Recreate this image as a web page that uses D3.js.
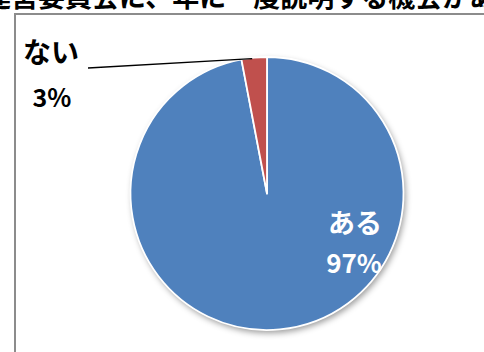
<!DOCTYPE html>
<html>
<head>
<meta charset="utf-8">
<script src="https://cdn.jsdelivr.net/npm/d3@7"></script>
<style>
html,body{margin:0;padding:0;background:#fff;overflow:hidden;}
svg{display:block;}
text{font-family:"Noto Sans CJK JP","Noto Sans",sans-serif;font-weight:bold;}
</style>
</head>
<body>
<svg id="c" width="484" height="352"></svg>
<script>
const categories = ["ある", "ない"];
const values = [97, 3];
const pctLabels = ["97%", "3%"];
const colors = ["#4F81BD", "#C0504D"];
const titleText = "運営委員会に、年に一度説明する機会がある";

const svg = d3.select("#c");
const defs = svg.append("defs");
const f = defs.append("filter").attr("id","sh").attr("x","-20%").attr("y","-20%").attr("width","140%").attr("height","140%");
f.append("feDropShadow").attr("dx",2).attr("dy",3).attr("stdDeviation",3).attr("flood-color","#000").attr("flood-opacity",0.4);

// title (cut off at top, as in the reference)
svg.append("text").attr("x",-16).attr("y",7).attr("font-size",27).attr("fill","#000").text(titleText);

// chart frame
svg.append("rect").attr("x",15).attr("y",14).attr("width",500).attr("height",360)
  .attr("fill","none").attr("stroke","#8c8c8c").attr("stroke-width",2);

const cx = 267, cy = 193.5, r = 136.5;
const pie = d3.pie().sort(null).value(d => d)(values);
const arc = d3.arc().innerRadius(0).outerRadius(r);
const g = svg.append("g").attr("transform",`translate(${cx},${cy})`);

g.append("circle").attr("r",r).attr("fill","#fff").attr("filter","url(#sh)");
g.selectAll("path").data(pie).join("path")
  .attr("d",arc).attr("fill",(d,i)=>colors[i])
  .attr("stroke","#fff").attr("stroke-width",1.8).attr("stroke-linejoin","round");

// inside label for ある
svg.append("text").attr("x",355).attr("y",233).attr("text-anchor","middle").attr("font-size",27)
  .attr("fill","#fff").text(categories[0]);
svg.append("text").attr("x",354).attr("y",273).attr("text-anchor","middle").attr("font-size",26)
  .attr("fill","#fff").text(pctLabels[0]);

// outside label for ない
svg.append("text").attr("x",51).attr("y",63).attr("text-anchor","middle").attr("font-size",28)
  .attr("fill","#000").text(categories[1]);
svg.append("text").attr("x",52).attr("y",107).attr("text-anchor","middle").attr("font-size",25)
  .attr("fill","#000").text(pctLabels[1]);

// leader line toward the small slice
const mid = (pie[1].startAngle + pie[1].endAngle)/2;
const ex = cx + Math.sin(mid)*(r-1), ey = cy - Math.cos(mid)*(r-1);
svg.append("line").attr("x1",88).attr("y1",68).attr("x2",ex-2).attr("y2",ey)
  .attr("stroke","#000").attr("stroke-width",1.3);
</script>
</body>
</html>
